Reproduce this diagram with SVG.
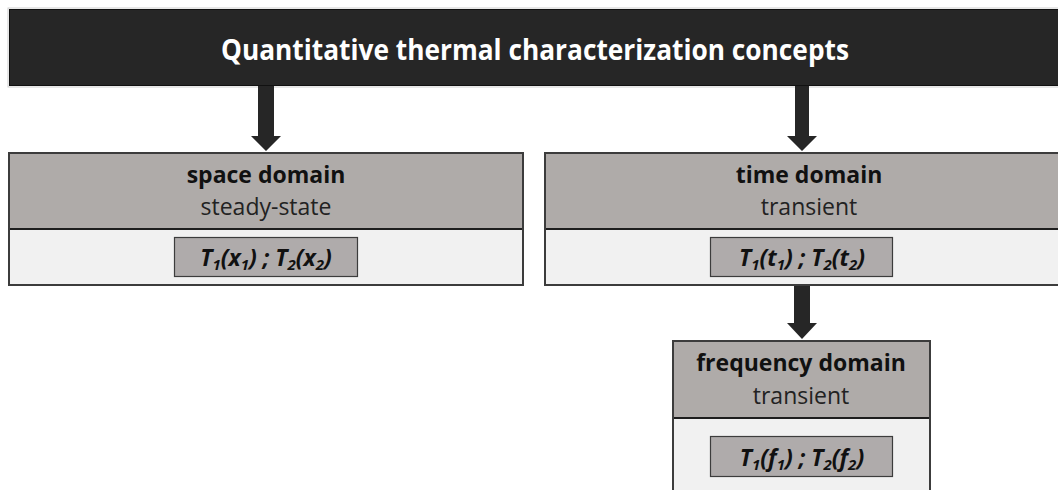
<svg xmlns="http://www.w3.org/2000/svg" width="1058" height="490" viewBox="0 0 1058 490">
  <style>
    .bold { font-family: "Open Sans", "Liberation Sans", sans-serif; font-weight: 700; fill: #111; }
    .reg { font-family: "Open Sans", "Liberation Sans", sans-serif; font-weight: 400; fill: #222; }
    .title { font-family: "Open Sans", "Liberation Sans", sans-serif; font-weight: 700; fill: #ffffff; font-size: 28px; }
    .formula { font-family: "Open Sans", "Liberation Sans", sans-serif; font-weight: 700; font-style: italic; fill: #111; font-size: 23px; }
    .sub { font-size: 15px; }
    .head { fill: #afaba9; }
    .body { fill: #f1f1f1; }
    .frame { fill: none; stroke: #3c3c3c; stroke-width: 2; }
    .sep { stroke: #1e1e1e; stroke-width: 2; }
    .fbox { fill: #afabab; stroke: #3c3c3c; stroke-width: 1.2; }
    .arrow { fill: #262626; }
  </style>

  <rect width="1058" height="490" fill="#ffffff"/>

  <!-- banner -->
  <g id="concepts">
    <rect x="8" y="8" width="1060" height="79" fill="none" stroke="#cfcfcf" stroke-width="1"/>
    <rect x="9.5" y="9.5" width="1060" height="76" fill="#262626" stroke="#111" stroke-width="1"/>
    <text class="title" x="535" y="60" text-anchor="middle" textLength="628" lengthAdjust="spacingAndGlyphs">Quantitative thermal characterization concepts</text>
  </g>

  <!-- connectors -->
  <g id="connectors">
    <path class="arrow" d="M258 86 H274 V136 H281 L266 151 L251 136 H258 Z"/>
    <path class="arrow" d="M795 86 H809 V136 H817 L802 151 L787 136 H795 Z"/>
    <path class="arrow" d="M794 286 H810 V323 H817 L802 339 L787 323 H794 Z"/>
  </g>

  <!-- space domain -->
  <g id="space-domain">
    <rect class="head" x="9" y="153" width="514" height="76"/>
    <rect class="body" x="9" y="229" width="514" height="56"/>
    <line class="sep" x1="9" y1="229" x2="523" y2="229"/>
    <rect class="frame" x="9" y="153" width="514" height="132"/>
    <text class="bold" x="266" y="183" text-anchor="middle" font-size="23">space domain</text>
    <text class="reg" x="266" y="215" text-anchor="middle" font-size="23">steady-state</text>
    <rect class="fbox" x="174.5" y="237.5" width="183" height="39"/>
    <text class="formula" x="266" y="266" text-anchor="middle">T<tspan class="sub" dy="4">1</tspan><tspan dy="-4">(x</tspan><tspan class="sub" dy="4">1</tspan><tspan dy="-4">) ; T</tspan><tspan class="sub" dy="4">2</tspan><tspan dy="-4">(x</tspan><tspan class="sub" dy="4">2</tspan><tspan dy="-4">)</tspan></text>
  </g>

  <!-- time domain -->
  <g id="time-domain">
    <rect class="head" x="545" y="153" width="530" height="76"/>
    <rect class="body" x="545" y="229" width="530" height="56"/>
    <line class="sep" x1="545" y1="229" x2="1075" y2="229"/>
    <rect class="frame" x="545" y="153" width="530" height="132"/>
    <text class="bold" x="809" y="183" text-anchor="middle" font-size="23">time domain</text>
    <text class="reg" x="809" y="215" text-anchor="middle" font-size="23">transient</text>
    <rect class="fbox" x="710.5" y="237.5" width="182" height="39"/>
    <text class="formula" x="802" y="266" text-anchor="middle">T<tspan class="sub" dy="4">1</tspan><tspan dy="-4">(t</tspan><tspan class="sub" dy="4">1</tspan><tspan dy="-4">) ; T</tspan><tspan class="sub" dy="4">2</tspan><tspan dy="-4">(t</tspan><tspan class="sub" dy="4">2</tspan><tspan dy="-4">)</tspan></text>
  </g>

  <!-- frequency domain -->
  <g id="frequency-domain">
    <rect class="head" x="673" y="341" width="257" height="77"/>
    <rect class="body" x="673" y="418" width="257" height="80"/>
    <line class="sep" x1="673" y1="418" x2="930" y2="418"/>
    <rect class="frame" x="673" y="341" width="257" height="160"/>
    <text class="bold" x="801" y="371" text-anchor="middle" font-size="23">frequency domain</text>
    <text class="reg" x="801" y="404" text-anchor="middle" font-size="23">transient</text>
    <rect class="fbox" x="710.5" y="436.5" width="182" height="40"/>
    <text class="formula" x="802" y="466" text-anchor="middle">T<tspan class="sub" dy="4">1</tspan><tspan dy="-4">(f</tspan><tspan class="sub" dy="4">1</tspan><tspan dy="-4">) ; T</tspan><tspan class="sub" dy="4">2</tspan><tspan dy="-4">(f</tspan><tspan class="sub" dy="4">2</tspan><tspan dy="-4">)</tspan></text>
  </g>
</svg>
